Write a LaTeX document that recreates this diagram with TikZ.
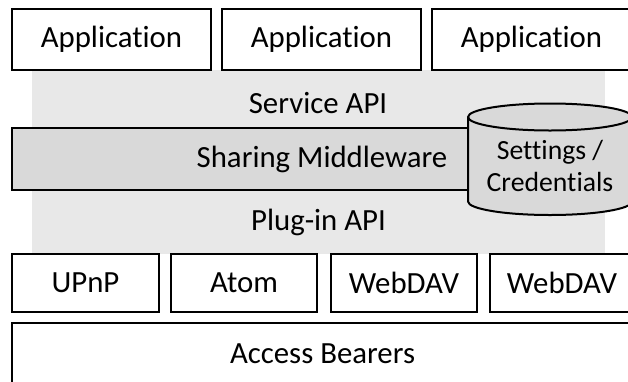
\documentclass[tikz,border=0pt]{standalone}
\usepackage{fontspec}
\setmainfont{Carlito}[Ligatures=CommonOff]
\begin{document}
\begin{tikzpicture}[x=1pt,y=-1pt,
  layer/.style={draw=black,line width=2pt,fill=white,inner sep=0pt,
    font=\fontsize{30.8}{34}\selectfont},
  label/.style={inner sep=0pt,font=\fontsize{30.8}{34}\selectfont},
  store/.style={inner sep=0pt,align=center,font=\fontsize{27.7}{32}\selectfont}]
\definecolor{apizone}{RGB}{232,232,232}
\definecolor{core}{RGB}{217,217,217}
\useasboundingbox (0,0) rectangle (628,381);
\clip (0,0) rectangle (628,381);
\fill[white] (0,0) rectangle (628,381);
% API band behind the middleware
\fill[apizone] (32,70) rectangle (605,254);
% applications
\node[layer,minimum width=199pt,minimum height=61pt] (app1) at (111.5,39.5) {Application};
\node[layer,minimum width=199pt,minimum height=61pt] (app2) at (321.5,39.5) {Application};
\node[layer,minimum width=199pt,minimum height=61pt] (app3) at (531.5,39.5) {Application};
\node[label] (svc) at (318,103) {Service API};
% middleware
\node[layer,fill=core,minimum width=620pt,minimum height=62pt] (mw) at (322,159) {Sharing Middleware};
% settings store (cylinder)
\fill[core,draw=black,line width=2pt]
  (468,117) -- (468,201.5) arc[start angle=180,end angle=0,x radius=82,y radius=13.5]
  -- (632,117) arc[start angle=0,end angle=-180,x radius=82,y radius=13.5] -- cycle;
\draw[line width=2pt] (468,117) arc[start angle=180,end angle=0,x radius=82,y radius=13.5];
\node[store] (cred) at (550,166) {Settings /\\Credentials};
\node[label] (plug) at (318.5,222) {Plug-in API};
% plug-ins
\node[layer,minimum width=147pt,minimum height=58pt] (upnp) at (85.5,283) {UPnP};
\node[layer,minimum width=146pt,minimum height=58pt] (atom) at (244,283) {Atom};
\node[layer,minimum width=146pt,minimum height=58pt] (dav1) at (404,283) {WebDAV};
\node[layer,minimum width=144pt,minimum height=58pt] (dav2) at (562,283) {WebDAV};
% bearers
\node[layer,minimum width=621pt,minimum height=62pt] (bear) at (322.5,354) {Access Bearers};
\end{tikzpicture}
\end{document}
